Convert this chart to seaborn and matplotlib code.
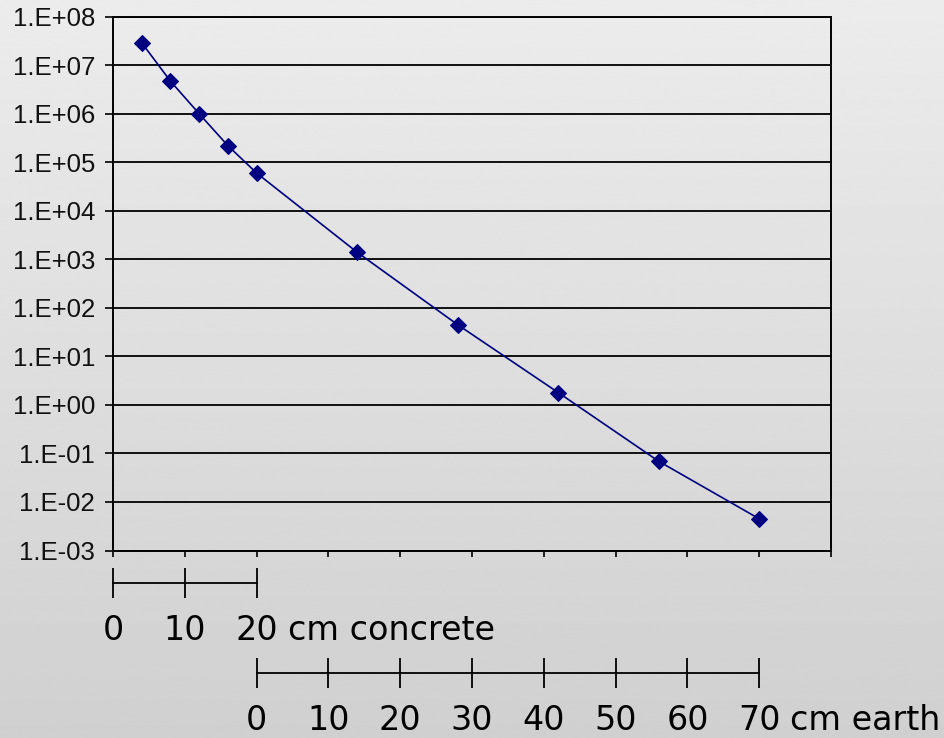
import numpy as np
import pandas as pd
import matplotlib
matplotlib.use("Agg")
import matplotlib.pyplot as plt
from matplotlib.ticker import FuncFormatter, NullLocator
import seaborn as sns

# Shielding thickness along a shared axis (cm): 20 cm of concrete, then earth
position_cm = [4, 8, 12, 16, 20, 34, 48, 62, 76, 90]
flux = [2.9e7, 4.7e6, 1.0e6, 2.2e5, 6.0e4, 1.4e3, 45, 1.8, 0.069, 0.0045]

concrete_ticks = [0, 10, 20]
earth_ticks = [0, 10, 20, 30, 40, 50, 60, 70]
earth_offset = 20  # earth starts after the concrete layer
decades = list(range(-3, 9))

sns.set_theme(style="white")
plt.rcParams["font.family"] = ["Liberation Sans", "DejaVu Sans"]

W, H = 945, 738
fig = plt.figure(figsize=(W / 100, H / 100), dpi=100)

# soft vertical grey gradient behind everything
bg = fig.add_axes([0, 0, 1, 1], zorder=-10)
grad = np.linspace(0.925, 0.815, 256).reshape(-1, 1)
bg.imshow(grad, aspect="auto", cmap="gray", vmin=0, vmax=1,
          extent=[0, 1, 0, 1], interpolation="bilinear")
bg.axis("off")

left, right, top, bottom = 113, 831, 16.7, 550.5
ax = fig.add_axes([left / W, 1 - bottom / H, (right - left) / W, (bottom - top) / H])
ax.patch.set_alpha(0)

df = pd.DataFrame({"position": position_cm, "flux": flux})
sns.lineplot(data=df, x="position", y="flux", ax=ax, color="#000080",
             linewidth=1.2, marker="D", markersize=8,
             markeredgecolor="#000080", markerfacecolor="#000080")

ax.set_yscale("log")
ax.set_ylim(1e-3, 1e8)
ax.set_xlim(0, 100)
ax.set_yticks([10.0 ** k for k in decades])
ax.yaxis.set_minor_locator(NullLocator())
ax.yaxis.set_major_formatter(
    FuncFormatter(lambda v, p: f"1.E{int(round(np.log10(v))):+03d}"))
ax.set_xticks(range(0, 101, 10))
ax.set_xticklabels([])
ax.set_xlabel("")
ax.set_ylabel("")
ax.grid(axis="y", color="black", linewidth=1.3)
ax.grid(axis="x", visible=False)
ax.tick_params(axis="x", bottom=True, direction="out", length=4.5,
               width=1.2, color="black")
ax.tick_params(axis="y", left=True, direction="out", length=6, width=1.2,
               color="black", labelsize=18.5, pad=7, labelcolor="#111111")
for s in ax.spines.values():
    s.set_color("black")
    s.set_linewidth(1.4)

RULER_FONT = "DejaVu Sans"
RULER_SIZE = 24


def thickness_scale(y_px, ticks, offset, unit, pad):
    """Draw a ruler below the chart sharing the horizontal scale."""
    a = fig.add_axes([left / W, 1 - y_px / H, (right - left) / W, 0.01])
    a.set_xlim(-offset, 100 - offset)
    a.patch.set_visible(False)
    for side in ("top", "left", "right"):
        a.spines[side].set_visible(False)
    a.spines["bottom"].set_bounds(ticks[0], ticks[-1])
    a.spines["bottom"].set_color("black")
    a.spines["bottom"].set_linewidth(1.3)
    a.set_yticks([])
    a.set_xticks(ticks)
    a.set_xticklabels([str(t) for t in ticks], fontfamily=RULER_FONT)
    length = 21
    a.tick_params(axis="x", bottom=True, direction="inout", length=length,
                  width=1.3, color="black", labelsize=RULER_SIZE, pad=pad,
                  labelcolor="black")
    a.annotate(unit, xy=(ticks[-1], 0), xycoords=("data", "axes fraction"),
               xytext=(22.5, -(length / 2 + pad)),
               textcoords="offset points", ha="left", va="top",
               fontsize=RULER_SIZE, fontfamily=RULER_FONT, color="black")
    return a


thickness_scale(583, concrete_ticks, 0, "cm concrete", pad=12)
thickness_scale(673, earth_ticks, earth_offset, "cm earth", pad=11.5)

fig.savefig("out.png", dpi=100)
